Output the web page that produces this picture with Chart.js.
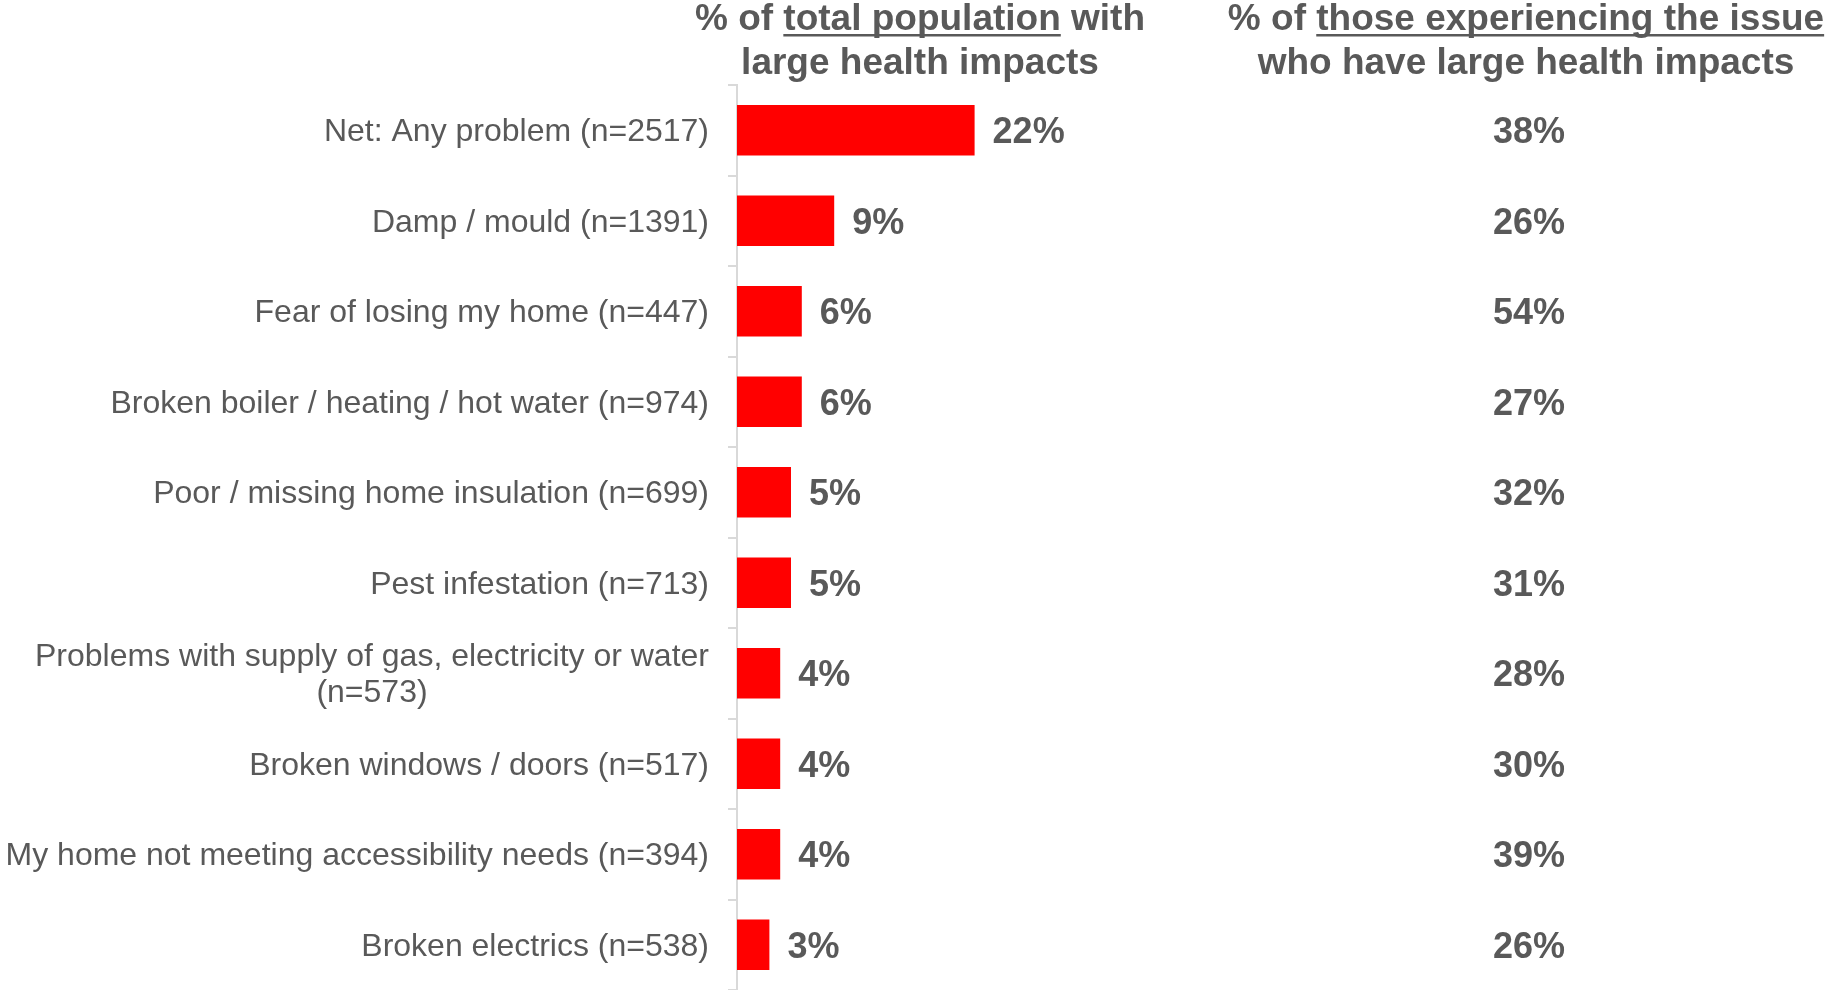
<!DOCTYPE html>
<html>
<head>
<meta charset="utf-8">
<script src="https://cdn.jsdelivr.net/npm/chart.js@4.4.1/dist/chart.umd.min.js"></script>
<style>
  html, body { margin: 0; padding: 0; background: #fff; }
  #wrap { width: 1827px; height: 990px; }
</style>
</head>
<body>
<div id="wrap"><canvas id="chart" width="1827" height="990"></canvas></div>
<script>
// issue labels, second line used where the label wraps
const categories = [
  ['Net: Any problem (n=2517)'],
  ['Damp / mould (n=1391)'],
  ['Fear of losing my home (n=447)'],
  ['Broken boiler / heating / hot water (n=974)'],
  ['Poor / missing home insulation (n=699)'],
  ['Pest infestation (n=713)'],
  ['Problems with supply of gas, electricity or water', '(n=573)'],
  ['Broken windows / doors (n=517)'],
  ['My home not meeting accessibility needs (n=394)'],
  ['Broken electrics (n=538)']
];
// % of total population with large health impacts
const pctTotal = [22, 9, 6, 6, 5, 5, 4, 4, 4, 3];
// % of those experiencing the issue who have large health impacts
const pctIssue = [38, 26, 54, 27, 32, 31, 28, 30, 39, 26];

const headerLeft = [
  [{ t: '% of ' }, { t: 'total population', u: true }, { t: ' with' }],
  [{ t: 'large health impacts' }]
];
const headerRight = [
  [{ t: '% of ' }, { t: 'those experiencing the issue', u: true }],
  [{ t: 'who have large health impacts' }]
];

const FONT = '"Liberation Sans", Arial, sans-serif';
const GREY = '#595959';

function drawRich(ctx, parts, cx, y) {
  const total = parts.reduce((w, p) => w + ctx.measureText(p.t).width, 0);
  let x = cx - total / 2;
  for (const p of parts) {
    const w = ctx.measureText(p.t).width;
    ctx.fillText(p.t, x, y);
    if (p.u) ctx.fillRect(x, y + 4, w, 2.5);
    x += w;
  }
}

const overlay = {
  id: 'overlay',
  afterDraw(chart) {
    const ctx = chart.ctx;
    const yScale = chart.scales.y;
    const meta = chart.getDatasetMeta(0);
    ctx.save();
    ctx.fillStyle = GREY;

    // column headers
    ctx.font = 'bold 37px ' + FONT;
    ctx.textAlign = 'left';
    ctx.textBaseline = 'alphabetic';
    headerLeft.forEach((line, i) => drawRich(ctx, line, 920, 30 + i * 44));
    headerRight.forEach((line, i) => drawRich(ctx, line, 1526, 30 + i * 44));

    // category labels: block right-aligned, wrapped lines centred
    ctx.font = '32px ' + FONT;
    ctx.textAlign = 'center';
    ctx.textBaseline = 'middle';
    const labelRight = yScale.right - 28;
    categories.forEach((lines, i) => {
      const y = yScale.getPixelForValue(i);
      const bw = Math.max(...lines.map(l => ctx.measureText(l).width));
      const lh = 36;
      const y0 = y - (lines.length - 1) * lh / 2;
      lines.forEach((l, j) => ctx.fillText(l, labelRight - bw / 2, y0 + j * lh + 2));
    });

    // bar value labels
    ctx.font = 'bold 36px ' + FONT;
    ctx.textAlign = 'left';
    meta.data.forEach((bar, i) => {
      ctx.fillText(pctTotal[i] + '%', bar.x + 18, bar.y + 3);
    });

    // second column values
    ctx.textAlign = 'center';
    pctIssue.forEach((v, i) => {
      ctx.fillText(v + '%', 1529, yScale.getPixelForValue(i) + 3);
    });
    ctx.restore();
  }
};

new Chart(document.getElementById('chart'), {
  type: 'bar',
  data: {
    labels: categories.map(c => c.join(' ')),
    datasets: [{
      data: pctTotal,
      backgroundColor: '#FF0000',
      borderWidth: 0,
      categoryPercentage: 1,
      barPercentage: 0.56
    }]
  },
  options: {
    indexAxis: 'y',
    responsive: false,
    animation: false,
    layout: { padding: { top: 85, right: 10, bottom: 0, left: 0 } },
    plugins: {
      legend: { display: false },
      tooltip: { enabled: false }
    },
    scales: {
      x: {
        display: false,
        min: 0,
        max: 100
      },
      y: {
        afterFit(scale) { scale.width = 737; },
        ticks: { display: false },
        grid: {
          offset: true,
          drawOnChartArea: false,
          drawTicks: true,
          tickLength: 9,
          color: '#d9d9d9',
          lineWidth: 2
        },
        border: { display: true, color: '#d9d9d9', width: 2 }
      }
    }
  },
  plugins: [overlay]
});
</script>
</body>
</html>
